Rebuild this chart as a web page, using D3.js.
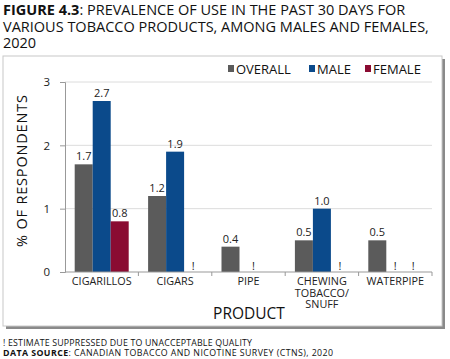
<!DOCTYPE html>
<html><head><meta charset="utf-8">
<script src="https://cdn.jsdelivr.net/npm/d3@7"></script>
<style>body{margin:0;background:#fff}svg{display:block}text{font-family:"Open Sans","DejaVu Sans",sans-serif}</style>
</head><body><svg id="c" width="450" height="359"></svg>
<script>
const categories = [["CIGARILLOS"],["CIGARS"],["PIPE"],["CHEWING","TOBACCO/","SNUFF"],["WATERPIPE"]];
const seriesNames = ["OVERALL","MALE","FEMALE"];
// null = estimate suppressed ("!"), undefined = no mark
const overall = [1.7,1.2,0.4,0.5,0.5];
const male = [2.7,1.9,null,1.0,null];
const female = [0.8,null,undefined,null,null];
const yTicks = [0,1,2,3];
const colors = ["#5b5b5b","#0b4a8b","#8a0b32"];
const series = [overall, male, female];

const svg = d3.select("#c");
// frame with shadow
svg.append("rect").attr("x",6).attr("y",59).attr("width",439).attr("height",270).attr("fill","#8a8a8a");
svg.append("rect").attr("x",3).attr("y",56).attr("width",439).attr("height",270).attr("fill","#fff").attr("stroke","#c8c8c8");

// title
const t = svg.append("g").attr("font-size",14.5).attr("fill","#111");
const l1 = t.append("text").attr("x",3).attr("y",15);
l1.append("tspan").attr("font-weight","bold").text("FIGURE 4.3");
l1.append("tspan").text(": PREVALENCE OF USE IN THE PAST 30 DAYS FOR");
t.append("text").attr("x",3).attr("y",32).text("VARIOUS TOBACCO PRODUCTS, AMONG MALES AND FEMALES,");
t.append("text").attr("x",3).attr("y",48).text("2020");

const x0 = d3.scaleBand().domain(d3.range(categories.length)).range([65,432]);
const x1 = d3.scaleBand().domain(d3.range(3)).range([0,54]);
const y = d3.scaleLinear().domain([0,3]).range([272,82]);

// gridlines
svg.append("g").selectAll("line").data(yTicks.slice(1)).join("line")
  .attr("x1",65).attr("x2",432).attr("y1",d=>y(d)).attr("y2",d=>y(d)).attr("stroke","#dcdcdc");

// bars
const off = (x0.bandwidth()-54)/2;
series.forEach((s,si)=>{
  s.forEach((v,ci)=>{
    if(v===undefined) return;
    const bx = x0(ci)+off+x1(si);
    const cx = bx + x1.bandwidth()/2;
    if(v===null){
      svg.append("text").attr("x",cx+(ci===2?5:0)).attr("y",270).attr("text-anchor","middle").attr("font-size",11).attr("fill","#222").text("!");
    } else {
      svg.append("rect").attr("x",bx).attr("y",y(v)).attr("width",x1.bandwidth()).attr("height",y(0)-y(v)).attr("fill",colors[si]);
      svg.append("text").attr("x",cx).attr("y",y(v)-4).attr("text-anchor","middle").attr("font-size",11).attr("fill","#222").text(v.toFixed(1));
    }
  });
});

// y axis
const ya = svg.append("g").attr("transform","translate(65,0)").call(d3.axisLeft(y).tickValues(yTicks).tickFormat(d3.format("d")).tickSize(5).tickPadding(10));
ya.selectAll("path,line").attr("stroke","#999");
ya.selectAll("text").attr("font-size",11.5).attr("fill","#222").style("font-family",'"Open Sans",sans-serif');

// x axis
svg.append("line").attr("x1",65).attr("x2",432).attr("y1",272).attr("y2",272).attr("stroke","#999");
svg.append("g").selectAll("line").data(d3.range(1,categories.length+1)).join("line")
  .attr("x1",i=>x0(i)??432).attr("x2",i=>x0(i)??432).attr("y1",272).attr("y2",276).attr("stroke","#999");
categories.forEach((lines,ci)=>{
  const tx = svg.append("text").attr("text-anchor","middle").attr("font-size",10.8).attr("fill","#222");
  lines.forEach((ln,k)=>tx.append("tspan").attr("x",x0(ci)+x0.bandwidth()/2).attr("y",285+k*11.7).text(ln));
});

// axis titles
svg.append("text").attr("x",249).attr("y",319).attr("text-anchor","middle").attr("font-size",15.5).attr("fill","#111").text("PRODUCT");
svg.append("text").attr("transform","translate(27,171) rotate(-90)").attr("text-anchor","middle").attr("font-size",14.5)
  .attr("textLength",152).attr("lengthAdjust","spacing").attr("fill","#111").text("% OF RESPONDENTS");

// legend
const lx = [228,309,365];
seriesNames.forEach((n,i)=>{
  svg.append("rect").attr("x",lx[i]).attr("y",65).attr("width",6).attr("height",7).attr("fill",colors[i]);
  svg.append("text").attr("x",lx[i]+8).attr("y",73.5).attr("font-size",13).attr("fill","#111").text(n);
});

// footnotes
svg.append("text").attr("x",3).attr("y",346).attr("font-size",8.8).attr("textLength",249).attr("lengthAdjust","spacing")
  .attr("fill","#111").text("! ESTIMATE SUPPRESSED DUE TO UNACCEPTABLE QUALITY");
const f2 = svg.append("text").attr("x",3).attr("y",355.5).attr("font-size",8.8).attr("textLength",330).attr("lengthAdjust","spacing").attr("fill","#111");
f2.append("tspan").attr("font-weight","bold").text("DATA SOURCE");
f2.append("tspan").text(": CANADIAN TOBACCO AND NICOTINE SURVEY (CTNS), 2020");
</script></body></html>
